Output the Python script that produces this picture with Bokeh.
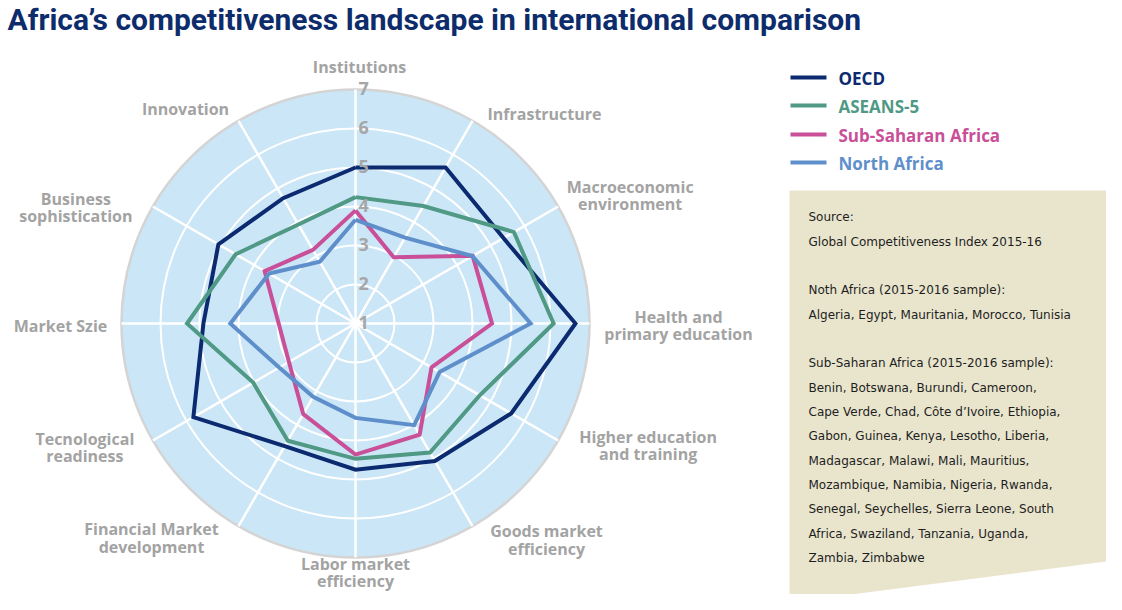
import numpy as np
from bokeh.plotting import figure
from bokeh.models import Range1d
from bokeh.core.properties import value
from bokeh.embed import file_html
from bokeh.resources import INLINE

# ---------------- data ----------------
categories = ["Institutions", "Infrastructure", "Macroeconomic\nenvironment",
              "Health and\nprimary education", "Higher education\nand training",
              "Goods market\nefficiency", "Labor market\nefficiency",
              "Financial Market\ndevelopment", "Tecnological\nreadiness",
              "Market Szie", "Business\nsophistication", "Innovation"]
oecd = [5.0, 5.62, 5.38, 6.64, 5.61, 5.07, 4.75, 4.63, 5.80, 4.90, 5.06, 4.71]
aseans5 = [4.24, 4.48, 5.69, 6.08, 4.68, 4.82, 4.47, 4.47, 4.03, 5.32, 4.55, 3.93]
sub_saharan = [3.90, 2.96, 4.47, 4.50, 3.25, 4.29, 4.36, 3.68, 2.97, 2.97, 3.69, 3.18]
north_africa = [3.66, 3.54, 4.46, 5.49, 3.49, 4.01, 3.42, 3.17, 3.26, 4.21, 3.56, 2.83]
series_names = ["OECD", "ASEANS-5", "Sub-Saharan Africa", "North Africa"]
series_colors = ["#0b2a6f", "#4f9985", "#c94f98", "#5e8fcb"]
tick_values = [1, 2, 3, 4, 5, 6, 7]
tick_labels = ["1", "2", "3", "4", "5", "6", "7"]
title_text = "Africa\u2019s competitiveness landscape in international comparison"
note_lines = ["Source:", "Global Competitiveness Index 2015-16", "",
              "Noth Africa (2015-2016 sample):",
              "Algeria, Egypt, Mauritania, Morocco, Tunisia", "",
              "Sub-Saharan Africa (2015-2016 sample):",
              "Benin, Botswana, Burundi, Cameroon,",
              "Cape Verde, Chad, C\u00f4te d\u2019Ivoire, Ethiopia,",
              "Gabon, Guinea, Kenya, Lesotho, Liberia,",
              "Madagascar, Malawi, Mali, Mauritius,",
              "Mozambique, Namibia, Nigeria, Rwanda,",
              "Senegal, Seychelles, Sierra Leone, South",
              "Africa, Swaziland, Tanzania, Uganda,",
              "Zambia, Zimbabwe"]

# ---------------- layout helpers ----------------
VMIN, VMAX = 1, 7
PX = 39.0           # pixels per value unit
W, H = 1106, 594
CX, CY = 355, 323   # position of radar centre in the figure


def X(px):
    return (px - CX) / PX


def Y(py):
    return (CY - py) / PX


p = figure(width=W, height=H, x_range=Range1d(X(0), X(W)),
           y_range=Range1d(Y(H), Y(0)), output_backend="svg",
           toolbar_location=None, min_border=0)
p.axis.visible = False
p.grid.visible = False
p.outline_line_color = None
p.background_fill_color = "white"

n = len(categories)
theta = np.pi / 2 - np.arange(n) * 2 * np.pi / n
R = VMAX - VMIN

# background disk
p.circle(x=[0], y=[0], radius=[R], fill_color="#cbe6f6", line_color="#d4d4d4", line_width=2.5)
# rings
p.circle(x=[0] * 5, y=[0] * 5, radius=[v - VMIN for v in tick_values[1:-1]],
         fill_color=None, line_color="white", line_width=2)
# spokes
p.segment(x0=[0] * n, y0=[0] * n, x1=list(R * np.cos(theta)), y1=list(R * np.sin(theta)),
          line_color="white", line_width=2.5)

# series
for vals, col in zip([oecd, aseans5, sub_saharan, north_africa], series_colors):
    r = np.array(vals) - VMIN
    xs = list(r * np.cos(theta)) + [r[0] * np.cos(theta[0])]
    ys = list(r * np.sin(theta)) + [r[0] * np.sin(theta[0])]
    p.line(xs, ys, line_color=col, line_width=4, line_join="miter")

# tick labels
p.text(x=[0] * len(tick_values), y=[v - VMIN for v in tick_values], text=tick_labels,
       x_offset=3, y_offset=-1, text_align="left", text_baseline="middle",
       text_font=value("Open Sans"), text_font_style="bold", text_font_size="18px",
       text_color="#a6a6a6")

# category labels
lab_dx = [4, 72, 72, 89, 90, 74, 0, -87, -68, -61, -77, -53]
lab_dy = [-23, -7, -11, 2, 5, 14, 15, 12, 7, 2, 1, -12]
p.text(x=list(R * np.cos(theta)), y=list(R * np.sin(theta)), text=categories,
       x_offset=lab_dx, y_offset=lab_dy, text_align="center", text_baseline="middle",
       text_font=value("Open Sans"), text_font_style="bold", text_font_size="16px",
       text_color="#a3a3a3", text_line_height=0.8)

# title
p.text(x=[X(7)], y=[Y(19)], text=[title_text], text_align="left", text_baseline="middle",
       text_font=value("Roboto"), text_font_style="bold",
       text_font_size="30px", text_color="#0d2c6c")

# legend
leg_y = [77, 105, 134, 162]
p.segment(x0=[X(790)] * 4, y0=[Y(v) for v in leg_y], x1=[X(826)] * 4, y1=[Y(v) for v in leg_y],
          line_color=series_colors, line_width=4)
p.text(x=[X(838)] * 4, y=[Y(v + 0.5) for v in leg_y], text=series_names,
       text_align="left", text_baseline="middle", text_font=value("Open Sans"),
       text_font_style="bold", text_font_size="17px", text_color=series_colors)

# note box
p.patch(x=[X(789), X(1113), X(1113), X(789)], y=[Y(190), Y(190), Y(560), Y(602)],
        fill_color="#e9e5cd", line_color=None)
p.text(x=[X(808)] * len(note_lines), y=[Y(216.7 + 24.35 * i) for i in range(len(note_lines))],
       text=note_lines, text_align="left", text_baseline="middle",
       text_font=value("DejaVu Sans"), text_font_size="12px", text_color="#1e1e1e")

open("out.html", "w").write(file_html(p, INLINE))
